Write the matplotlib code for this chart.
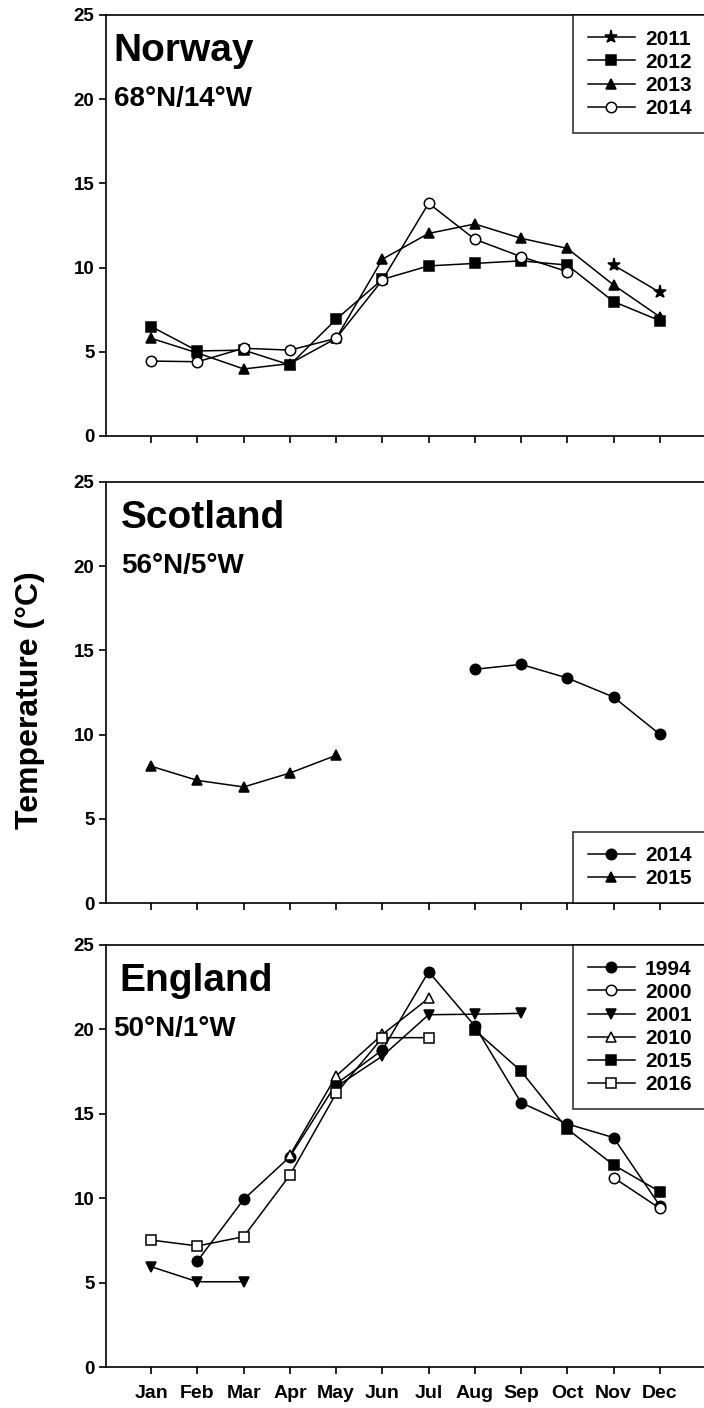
import numpy as np
import matplotlib.pyplot as plt

plt.rcParams['font.family'] = ['Liberation Sans', 'DejaVu Sans']
plt.rcParams['font.weight'] = 'bold'

nan = np.nan
months = ['Jan', 'Feb', 'Mar', 'Apr', 'May', 'Jun', 'Jul', 'Aug', 'Sep', 'Oct', 'Nov', 'Dec']
x = np.arange(1, 13)

# Norway, 68N/14W
nor_2011 = [nan, nan, nan, nan, nan, nan, nan, nan, nan, nan, 10.15, 8.53]
nor_2012 = [6.5, 5.05, 5.1, 4.22, 6.93, 9.3, 10.1, 10.25, 10.4, 10.15, 7.98, 6.85]
nor_2013 = [5.8, 4.93, 3.98, 4.3, 5.8, 10.5, 12.03, 12.59, 11.74, 11.14, 8.97, 7.08]
nor_2014 = [4.45, 4.41, 5.21, 5.1, 5.8, 9.26, 13.82, 11.68, 10.65, 9.76, nan, nan]

# Scotland, 56N/5W
sco_2014 = [nan, nan, nan, nan, nan, nan, nan, 13.88, 14.17, 13.36, 12.23, 10.02]
sco_2015 = [8.12, 7.28, 6.89, 7.72, 8.77, nan, nan, nan, nan, nan, nan, nan]

# England, 50N/1W
eng_1994 = [nan, 6.28, 9.93, 12.46, 16.77, 18.78, 23.42, 20.2, 15.66, 14.4, 13.59, 9.56]
eng_2000 = [nan, nan, nan, nan, nan, nan, nan, nan, nan, nan, 11.22, 9.4]
eng_2001 = [5.94, 5.05, 5.05, nan, 16.6, 18.42, 20.87, 20.9, 20.95, nan, nan, nan]
eng_2010 = [nan, nan, nan, 12.55, 17.24, 19.7, 21.84, nan, nan, nan, nan, nan]
eng_2015 = [nan, nan, nan, nan, nan, nan, nan, 19.96, 17.53, 14.1, 11.97, 10.39]
eng_2016 = [7.52, 7.17, 7.72, 11.37, 16.21, 19.51, 19.51, nan, nan, nan, nan, nan]

W, H = 704, 1408
fig = plt.figure(figsize=(W / 100, H / 100), dpi=100)

left = 106.4 / W
width = (706 - 106.4) / W


def make_ax(top_px, bot_px):
    ax = fig.add_axes([left, 1 - bot_px / H, width, (bot_px - top_px) / H])
    ax.set_xlim(0.03, 13.0)
    ax.set_ylim(0, 25)
    ax.set_yticks([0, 5, 10, 15, 20, 25])
    ax.set_xticks(x)
    ax.tick_params(direction='out', length=5, width=1.2, labelsize=13.5)
    ax.tick_params(axis='x', pad=8)
    for s in ax.spines.values():
        s.set_linewidth(1.2)
    return ax


def series(ax, y, marker, label, filled=True, ms=7.5):
    ax.plot(x, y, color='black', lw=1.1, marker=marker, ms=ms,
            mfc='black' if filled else 'white', mec='black', mew=1.1, label=label)


def titles(ax, name, coord, xn, xc):
    ax.text(xn, 0.89, name, transform=ax.transAxes, fontsize=28,
            fontweight='bold', va='baseline')
    ax.text(xc, 0.785, coord, transform=ax.transAxes, fontsize=20,
            fontweight='bold', va='baseline')


def legend(ax, loc, anchor):
    lg = ax.legend(loc=loc, bbox_to_anchor=anchor, fontsize=15, frameon=True,
                   fancybox=False, edgecolor='black', borderaxespad=0,
                   handlelength=2.3, handletextpad=0.45, labelspacing=0.2,
                   borderpad=0.7)
    lg.get_frame().set_linewidth(1.2)
    for t in lg.get_texts():
        t.set_fontweight('bold')


# Norway
ax1 = make_ax(15, 436)
series(ax1, nor_2011, '*', '2011', ms=9.5)
series(ax1, nor_2012, 's', '2012')
series(ax1, nor_2013, '^', '2013')
series(ax1, nor_2014, 'o', '2014', filled=False)
ax1.set_xticklabels([])
titles(ax1, 'Norway', '68°N/14°W', 0.012, 0.012)
legend(ax1, 'upper right', (1.0, 1.0))

# Scotland
ax2 = make_ax(482, 903)
series(ax2, sco_2014, 'o', '2014')
series(ax2, sco_2015, '^', '2015')
ax2.set_xticklabels([])
titles(ax2, 'Scotland', '56°N/5°W', 0.024, 0.024)
legend(ax2, 'lower right', (1.0, 0.0))

# England
ax3 = make_ax(945, 1367)
series(ax3, eng_1994, 'o', '1994')
series(ax3, eng_2000, 'o', '2000', filled=False)
series(ax3, eng_2001, 'v', '2001')
series(ax3, eng_2010, '^', '2010', filled=False)
series(ax3, eng_2015, 's', '2015')
series(ax3, eng_2016, 's', '2016', filled=False)
ax3.set_xticklabels(months, fontsize=14, fontweight='bold')
titles(ax3, 'England', '50°N/1°W', 0.022, 0.012)
legend(ax3, 'upper right', (1.0, 1.0))

for ax in (ax1, ax2, ax3):
    for t in ax.get_yticklabels() + ax.get_xticklabels():
        t.set_fontweight('bold')

fig.text(30 / W, 1 - 700 / H, 'Temperature (°C)', rotation=90, fontsize=23,
         fontweight='bold', ha='center', va='center')

fig.savefig('out.png', dpi=100)
